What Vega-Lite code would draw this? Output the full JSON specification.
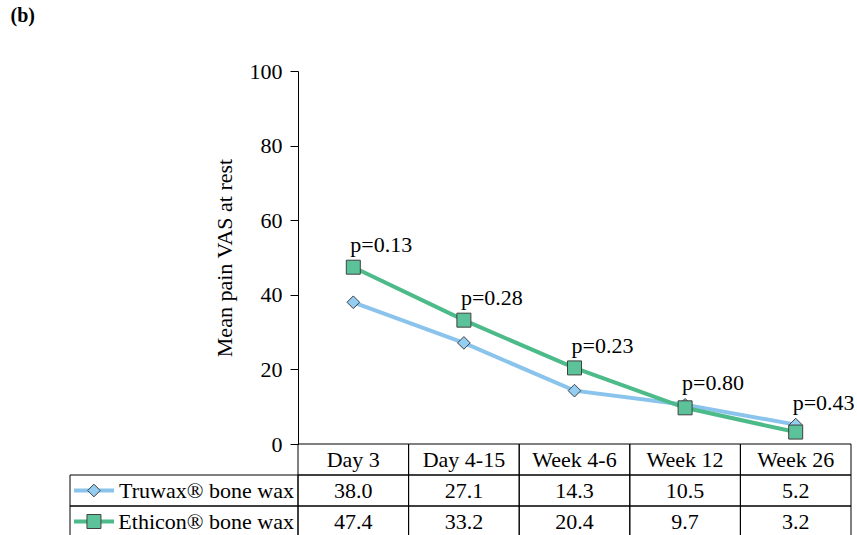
{
  "$schema": "https://vega.github.io/schema/vega-lite/v6.json",
  "padding": {"left": 10, "top": 6, "right": 5, "bottom": 0},
  "spacing": 0,
  "columns": 2,
  "bounds": "flush",
  "title": {"text": "(b)", "anchor": "start", "dx": -59, "fontSize": 20, "fontWeight": "bold", "font": "Liberation Serif", "color": "#000000", "offset": 34},
  "config": {
    "font": "Liberation Serif",
    "view": {"stroke": null},
    "concat": {"spacing": 0},
    "axis": {"labelFont": "Liberation Serif", "titleFont": "Liberation Serif"},
    "text": {"font": "Liberation Serif", "fontSize": 22, "color": "#000000"}
  },
  "datasets": {
    "series": [
      {"time": "Day 3", "group": "Truwax® bone wax", "value": 38.0, "p": "p=0.13"},
      {"time": "Day 4-15", "group": "Truwax® bone wax", "value": 27.1, "p": "p=0.28"},
      {"time": "Week 4-6", "group": "Truwax® bone wax", "value": 14.3, "p": "p=0.23"},
      {"time": "Week 12", "group": "Truwax® bone wax", "value": 10.5, "p": "p=0.80"},
      {"time": "Week 26", "group": "Truwax® bone wax", "value": 5.2, "p": "p=0.43"},
      {"time": "Day 3", "group": "Ethicon® bone wax", "value": 47.4, "p": "p=0.13"},
      {"time": "Day 4-15", "group": "Ethicon® bone wax", "value": 33.2, "p": "p=0.28"},
      {"time": "Week 4-6", "group": "Ethicon® bone wax", "value": 20.4, "p": "p=0.23"},
      {"time": "Week 12", "group": "Ethicon® bone wax", "value": 9.7, "p": "p=0.80"},
      {"time": "Week 26", "group": "Ethicon® bone wax", "value": 3.2, "p": "p=0.43"}
    ]
  },
  "concat": [
    {
      "width": 228,
      "height": 373,
      "data": {"values": []},
      "mark": {"type": "point", "opacity": 0}
    },
    {
      "width": 553,
      "height": 373,
      "data": {"name": "series"},
      "encoding": {
        "x": {
          "field": "time", "type": "ordinal",
          "scale": {"type": "point", "padding": 0.5, "domain": ["Day 3", "Day 4-15", "Week 4-6", "Week 12", "Week 26"]},
          "axis": null
        }
      },
      "layer": [
        {
          "mark": {"type": "line", "strokeWidth": 4},
          "encoding": {
            "y": {
              "field": "value", "type": "quantitative",
              "scale": {"domain": [0, 100]},
              "axis": {
                "title": "Mean pain VAS at rest", "values": [0, 20, 40, 60, 80, 100], "grid": false,
                "tickSize": 8, "labelPadding": 8, "labelFontSize": 22, "labelColor": "#000000", "labelFont": "Liberation Serif",
                "tickColor": "#000000", "domainColor": "#000000",
                "titleFontSize": 22, "titleFontWeight": "normal", "titleColor": "#000000", "titleFont": "Liberation Serif",
                "titleX": -62
              }
            },
            "color": {
              "field": "group", "type": "nominal",
              "scale": {"domain": ["Truwax® bone wax", "Ethicon® bone wax"], "range": ["#8AC4EC", "#4DBA8A"]},
              "legend": null
            }
          }
        },
        {
          "mark": {"type": "point", "filled": true, "opacity": 1, "stroke": "#404040", "strokeWidth": 1},
          "encoding": {
            "y": {"field": "value", "type": "quantitative", "scale": {"domain": [0, 100]}},
            "fill": {
              "field": "group", "type": "nominal",
              "scale": {"domain": ["Truwax® bone wax", "Ethicon® bone wax"], "range": ["#93CDF2", "#5CC29A"]},
              "legend": null
            },
            "shape": {
              "field": "group", "type": "nominal",
              "scale": {"domain": ["Truwax® bone wax", "Ethicon® bone wax"], "range": ["diamond", "square"]},
              "legend": null
            },
            "size": {
              "field": "group", "type": "nominal",
              "scale": {"domain": ["Truwax® bone wax", "Ethicon® bone wax"], "range": [160, 196]},
              "legend": null
            }
          }
        },
        {
          "transform": [{"aggregate": [{"op": "max", "field": "value", "as": "top"}], "groupby": ["time", "p"]}],
          "mark": {"type": "text", "align": "left", "baseline": "middle", "dx": -3, "dy": -22, "fontSize": 22, "font": "Liberation Serif", "color": "#000000"},
          "encoding": {
            "y": {"field": "top", "type": "quantitative", "scale": {"domain": [0, 100]}},
            "text": {"field": "p", "type": "nominal"}
          }
        }
      ]
    },
    {
      "width": 228,
      "height": 93,
      "data": {"name": "series"},
      "transform": [{"aggregate": [{"op": "count", "as": "n"}], "groupby": ["group"]}],
      "encoding": {
        "y": {
          "field": "group", "type": "nominal",
          "scale": {"domain": ["header", "Truwax® bone wax", "Ethicon® bone wax"], "paddingInner": 0, "paddingOuter": 0},
          "axis": null
        }
      },
      "layer": [
        {
          "mark": {"type": "rect", "fill": "#ffffff", "fillOpacity": 0, "stroke": "#000000", "strokeWidth": 1},
          "encoding": {
            "x": {"datum": 0, "type": "quantitative", "scale": {"domain": [0, 1]}, "axis": null},
            "x2": {"datum": 1}
          }
        },
        {
          "mark": {"type": "rule", "strokeWidth": 4},
          "encoding": {
            "x": {"datum": 0.0175, "type": "quantitative", "scale": {"domain": [0, 1]}, "axis": null},
            "x2": {"datum": 0.193},
            "y": {"field": "group", "type": "nominal", "bandPosition": 0.5},
            "color": {
              "field": "group", "type": "nominal",
              "scale": {"domain": ["Truwax® bone wax", "Ethicon® bone wax"], "range": ["#8AC4EC", "#4DBA8A"]},
              "legend": null
            }
          }
        },
        {
          "mark": {"type": "point", "filled": true, "opacity": 1, "stroke": "#404040", "strokeWidth": 1},
          "encoding": {
            "x": {"datum": 0.105, "type": "quantitative", "scale": {"domain": [0, 1]}, "axis": null},
            "y": {"field": "group", "type": "nominal", "bandPosition": 0.5},
            "fill": {
              "field": "group", "type": "nominal",
              "scale": {"domain": ["Truwax® bone wax", "Ethicon® bone wax"], "range": ["#93CDF2", "#5CC29A"]},
              "legend": null
            },
            "shape": {
              "field": "group", "type": "nominal",
              "scale": {"domain": ["Truwax® bone wax", "Ethicon® bone wax"], "range": ["diamond", "square"]},
              "legend": null
            },
            "size": {
              "field": "group", "type": "nominal",
              "scale": {"domain": ["Truwax® bone wax", "Ethicon® bone wax"], "range": [160, 196]},
              "legend": null
            }
          }
        },
        {
          "mark": {"type": "text", "align": "right", "baseline": "middle", "fontSize": 22, "font": "Liberation Serif", "color": "#000000"},
          "encoding": {
            "x": {"datum": 0.982, "type": "quantitative", "scale": {"domain": [0, 1]}, "axis": null},
            "y": {"field": "group", "type": "nominal", "bandPosition": 0.5},
            "text": {"field": "group", "type": "nominal"}
          }
        }
      ]
    },
    {
      "width": 553,
      "height": 93,
      "data": {"name": "series"},
      "layer": [
        {
          "mark": {"type": "rect", "fill": "#ffffff", "fillOpacity": 0, "stroke": "#000000", "strokeWidth": 1},
          "encoding": {
            "x": {"field": "time", "type": "ordinal", "scale": {"type": "band", "domain": ["Day 3", "Day 4-15", "Week 4-6", "Week 12", "Week 26"], "paddingInner": 0, "paddingOuter": 0}, "axis": null},
            "y": {"field": "group", "type": "nominal", "scale": {"domain": ["header", "Truwax® bone wax", "Ethicon® bone wax"], "paddingInner": 0, "paddingOuter": 0}, "axis": null}
          }
        },
        {
          "mark": {"type": "text", "align": "center", "baseline": "middle", "fontSize": 22, "font": "Liberation Serif", "color": "#000000"},
          "encoding": {
            "x": {"field": "time", "type": "ordinal", "bandPosition": 0.5},
            "y": {"field": "group", "type": "nominal", "bandPosition": 0.5},
            "text": {"field": "value", "type": "quantitative", "format": ".1f"}
          }
        },
        {
          "transform": [{"aggregate": [{"op": "count", "as": "n"}], "groupby": ["time"]}],
          "mark": {"type": "rect", "fill": "#ffffff", "fillOpacity": 0, "stroke": "#000000", "strokeWidth": 1},
          "encoding": {
            "x": {"field": "time", "type": "ordinal"},
            "y": {"datum": "header", "type": "nominal"}
          }
        },
        {
          "transform": [{"aggregate": [{"op": "count", "as": "n"}], "groupby": ["time"]}],
          "mark": {"type": "text", "align": "center", "baseline": "middle", "fontSize": 22, "font": "Liberation Serif", "color": "#000000"},
          "encoding": {
            "x": {"field": "time", "type": "ordinal", "bandPosition": 0.5},
            "y": {"datum": "header", "type": "nominal", "bandPosition": 0.5},
            "text": {"field": "time", "type": "nominal"}
          }
        }
      ]
    }
  ]
}
